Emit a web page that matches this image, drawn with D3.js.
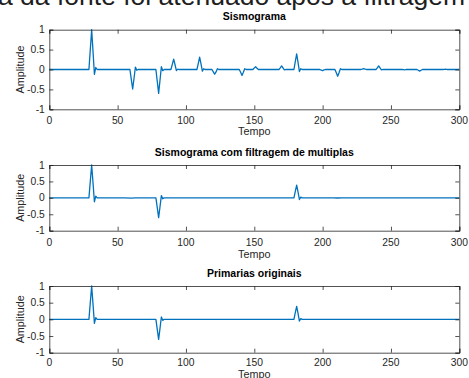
<!DOCTYPE html>
<html><head><meta charset="utf-8">
<script src="https://cdn.jsdelivr.net/npm/d3@7"></script>
<style>
html,body{margin:0;padding:0;background:#fff;overflow:hidden}
svg{display:block;font-family:"Liberation Sans",Arial,sans-serif}
</style></head>
<body>
<svg id="chart" width="469" height="378"></svg>
<script>
// ---- data (time, amplitude) vertices ----
const titles = ["Sismograma", "Sismograma com filtragem de multiplas", "Primarias originais"];
const xTicks = [0, 50, 100, 150, 200, 250, 300];
const yTicks = [-1, -0.5, 0, 0.5, 1];
const yTickLabels = ["-1", "-0.5", "0", "0.5", "1"];
const xLabel = "Tempo";
const yLabel = "Amplitude";
const headerText = "a da fonte foi atenuado após a filtragem";

const sismograma = [
  [0,0],[29,0],[30,0.5],[31,1],[32,0.45],[33,-0.12],[34,0.05],[35,0],
  [59,0],[60,-0.25],[61,-0.49],[62,-0.22],[63,0.06],[64,-0.02],[65,0],
  [78,0],[79,-0.3],[80,-0.6],[81,-0.27],[82,0.07],[83,-0.03],[84,0],
  [89,0],[90,0.13],[91,0.26],[92,0.12],[93,-0.03],[94,0.01],[95,0],
  [108,0],[109,0.15],[110,0.31],[111,0.14],[112,-0.04],[113,0.02],[114,0],
  [119,0],[120,-0.06],[121,-0.12],[122,-0.06],[123,0.02],[124,0],
  [139,0],[140,-0.07],[141,-0.15],[142,-0.07],[143,0.02],[144,0],
  [149,0],[150,0.04],[151,0.07],[152,0.03],[153,0],
  [168,0],[169,0.04],[170,0.09],[171,0.04],[172,-0.01],[173,0],
  [179,0],[180,0.2],[181,0.39],[182,0.18],[183,-0.05],[184,0.02],[185,0],
  [198,0],[199,-0.015],[200,-0.03],[201,-0.01],[202,0],
  [209,0],[210,-0.08],[211,-0.17],[212,-0.08],[213,0.02],[214,0],
  [228,0],[229,0.01],[230,0.02],[231,0.01],[232,0],
  [239,0],[240,0.04],[241,0.09],[242,0.04],[243,-0.01],[244,0],
  [258,0],[259,-0.005],[260,-0.01],[261,0],
  [269,0],[270,-0.02],[271,-0.04],[272,-0.02],[273,0],
  [288,0],[289,0.005],[290,0.01],[291,0],[300,0]
];
const filtrado = [
  [0,0],[29,0],[30,0.5],[31,1],[32,0.45],[33,-0.12],[34,0.05],[35,0],
  [55,0],[60,-0.01],[63,0],
  [78,0],[79,-0.3],[80,-0.6],[81,-0.27],[82,0.07],[83,-0.03],[84,0],
  [179,0],[180,0.2],[181,0.39],[182,0.18],[183,-0.05],[184,0.02],[185,0],
  [208,0],[211,-0.005],[214,0],[300,0]
];
const primarias = [
  [0,0],[29,0],[30,0.5],[31,1],[32,0.45],[33,-0.12],[34,0.05],[35,0],
  [78,0],[79,-0.3],[80,-0.6],[81,-0.27],[82,0.07],[83,-0.03],[84,0],
  [179,0],[180,0.2],[181,0.39],[182,0.18],[183,-0.05],[184,0.02],[185,0],
  [300,0]
];
const traces = [sismograma, filtrado, primarias];

// ---- layout ----
const svg = d3.select("#chart");
const W = 469, H = 378;
svg.append("rect").attr("width", W).attr("height", H).attr("fill", "#fff");

svg.append("text").attr("x", -2).attr("y", 5)
  .attr("font-size", 26.5).attr("fill", "#1e1e1e").text(headerText);

const L = 49.3, R = 459.3;
const panels = [
  {top: 29.7, bottom: 109.3, titleY: 19.5, tickY: 123.8, labelY: 135},
  {top: 165, bottom: 230.7, titleY: 155.5, tickY: 246, labelY: 257.8},
  {top: 286, bottom: 352.7, titleY: 277, tickY: 366, labelY: 377.5}
];
const axisColor = "#262626";
const lineColor = "#0072BD";

panels.forEach((p, i) => {
  const x = d3.scaleLinear().domain([0, 300]).range([L, R]);
  const y = d3.scaleLinear().domain([-1, 1]).range([p.bottom, p.top]);
  const g = svg.append("g");

  // data line
  const line = d3.line().x(d => x(d[0])).y(d => y(d[1]));
  g.append("path").datum(traces[i]).attr("d", line)
    .attr("fill", "none").attr("stroke", lineColor).attr("stroke-width", 1.3)
    .attr("stroke-linejoin", "round");

  // axes (ticks inward, mirrored)
  const tl = 4;
  const axB = d3.axisBottom(x).tickValues(xTicks).tickSize(-tl).tickFormat(() => "");
  const axT = d3.axisTop(x).tickValues(xTicks).tickSize(-tl).tickFormat(() => "");
  const axL = d3.axisLeft(y).tickValues(yTicks).tickSize(-tl).tickFormat(() => "");
  const axR = d3.axisRight(y).tickValues(yTicks).tickSize(-tl).tickFormat(() => "");
  [[axB, `translate(0,${p.bottom})`], [axT, `translate(0,${p.top})`],
   [axL, `translate(${L},0)`], [axR, `translate(${R},0)`]].forEach(([ax, tr]) => {
    const a = g.append("g").attr("transform", tr).call(ax);
    a.selectAll("path").attr("stroke", axisColor).attr("stroke-width", 0.8);
    a.selectAll("line").attr("stroke", axisColor).attr("stroke-width", 0.8);
    a.selectAll("text").remove();
  });

  // tick labels
  g.selectAll(".xl").data(xTicks).enter().append("text")
    .attr("x", d => x(d)).attr("y", p.tickY).attr("text-anchor", "middle")
    .attr("font-size", 10.3).attr("fill", axisColor).text(d => d);
  g.selectAll(".yl").data(yTicks).enter().append("text")
    .attr("x", L - 4.5).attr("y", d => y(d) + 3.6).attr("text-anchor", "end")
    .attr("font-size", 10.3).attr("fill", axisColor).text((d, j) => yTickLabels[j]);

  // labels
  g.append("text").attr("x", (L + R) / 2).attr("y", p.labelY).attr("text-anchor", "middle")
    .attr("font-size", 10.8).attr("fill", axisColor).text(xLabel);
  const cy = (p.top + p.bottom) / 2;
  g.append("text").attr("transform", `translate(23.5,${cy}) rotate(-90)`)
    .attr("text-anchor", "middle").attr("font-size", 10.8).attr("fill", axisColor).text(yLabel);
  g.append("text").attr("x", (L + R) / 2).attr("y", p.titleY).attr("text-anchor", "middle")
    .attr("font-size", 10.5).attr("font-weight", "bold").attr("fill", "#000").text(titles[i]);
});
</script>
</body></html>
